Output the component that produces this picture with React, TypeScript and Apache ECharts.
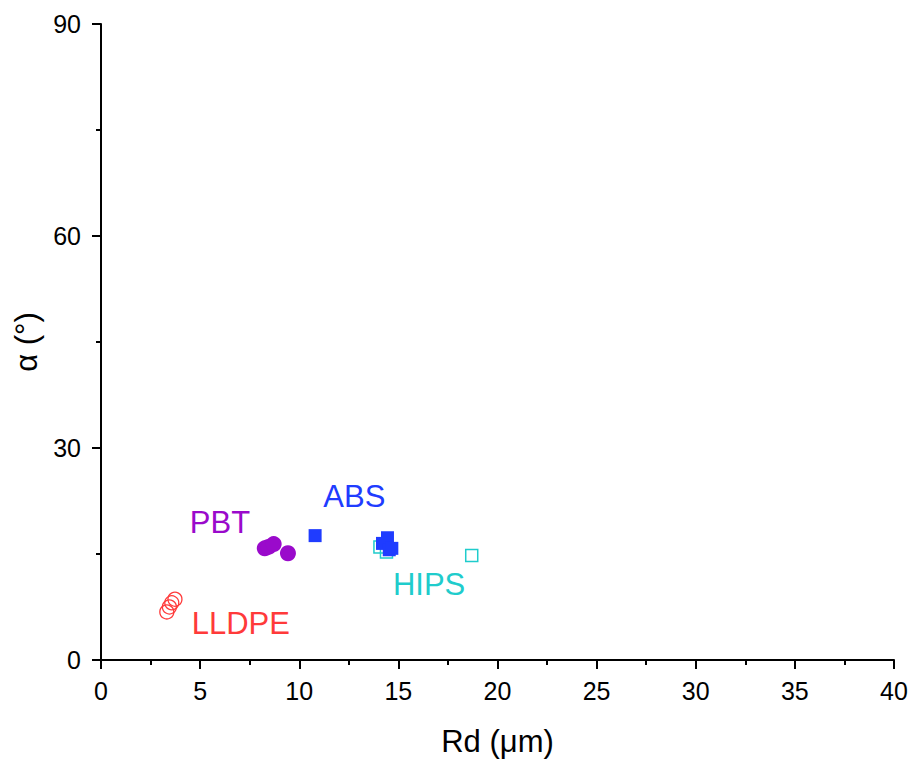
import React, { useEffect, useRef } from "react";
import * as echarts from "echarts";

const xTicks = [0, 5, 10, 15, 20, 25, 30, 35, 40];
const yTicks = [0, 30, 60, 90];

const lldpe: number[][] = [[3.32, 6.8], [3.45, 7.5], [3.57, 8.1], [3.73, 8.6]];
const pbt: number[][] = [[8.26, 15.8], [8.45, 16.0], [8.71, 16.4], [9.43, 15.1]];
const hips: number[][] = [[14.07, 16.0], [14.4, 15.3], [18.7, 14.8]];
const abs: number[][] = [[10.8, 17.6], [14.45, 17.3], [14.2, 16.5], [14.54, 15.6], [14.67, 15.8]];

const labels = [
  { text: "PBT", x: 6.0, y: 19.5, color: "#9a0acb" },
  { text: "ABS", x: 12.78, y: 23.1, color: "#1f3cff" },
  { text: "HIPS", x: 16.55, y: 10.75, color: "#1fcccc" },
  { text: "LLDPE", x: 7.05, y: 5.1, color: "#ff3a3a" },
];

const font = "'Liberation Sans', Arial, sans-serif";

export default function App() {
  const ref = useRef<HTMLDivElement>(null);
  useEffect(() => {
    if (!ref.current) return;
    const chart = echarts.init(ref.current, null, { renderer: "svg" });
    const axisCommon = {
      axisLine: { show: true, onZero: false, lineStyle: { color: "#000", width: 2 } },
      axisTick: { show: true, inside: false, length: 9, lineStyle: { color: "#000", width: 2 } },
      minorTick: { show: true, splitNumber: 2, length: 5, lineStyle: { color: "#000", width: 2 } },
      splitLine: { show: false },
    };
    chart.setOption({
      animation: false,
      backgroundColor: "#fff",
      grid: { left: 101, right: 20, top: 24, bottom: 103 },
      xAxis: {
        type: "value",
        min: xTicks[0],
        max: xTicks[xTicks.length - 1],
        interval: 5,
        name: "Rd (μm)",
        nameLocation: "middle",
        nameGap: 66,
        nameTextStyle: { fontFamily: font, fontSize: 31, color: "#000" },
        axisLabel: { fontFamily: font, fontSize: 25, color: "#000", margin: 18 },
        ...axisCommon,
      },
      yAxis: {
        type: "value",
        min: yTicks[0],
        max: yTicks[yTicks.length - 1],
        interval: 30,
        name: "α (°)",
        nameLocation: "middle",
        nameGap: 57,
        nameTextStyle: { fontFamily: font, fontSize: 31, color: "#000" },
        axisLabel: { fontFamily: font, fontSize: 25, color: "#000", margin: 20 },
        ...axisCommon,
      },
      series: [
        {
          type: "scatter",
          name: "LLDPE",
          data: lldpe,
          symbol: "circle",
          symbolSize: 14,
          itemStyle: { color: "rgba(255,255,255,0)", borderColor: "#ff3a3a", borderWidth: 1.3, opacity: 1 },
        },
        {
          type: "scatter",
          name: "PBT",
          data: pbt,
          symbol: "circle",
          symbolSize: 16,
          itemStyle: { color: "#9a0acb", opacity: 1 },
        },
        {
          type: "scatter",
          name: "HIPS",
          data: hips,
          symbol: "rect",
          symbolSize: 12,
          itemStyle: { color: "rgba(255,255,255,0)", borderColor: "#1fcccc", borderWidth: 1.5, opacity: 1 },
        },
        {
          type: "scatter",
          name: "ABS",
          data: abs,
          symbol: "rect",
          symbolSize: 13,
          itemStyle: { color: "#1f3cff", opacity: 1 },
        },
        {
          type: "scatter",
          name: "labels",
          data: labels.map((l) => ({
            value: [l.x, l.y],
            label: {
              show: true,
              position: "inside",
              formatter: l.text,
              color: l.color,
              fontFamily: font,
              fontSize: 31,
              opacity: 1,
            },
          })),
          symbolSize: 1,
          itemStyle: { color: "rgba(0,0,0,0)", opacity: 1 },
          z: 5,
          silent: true,
        },
      ],
    });
    return () => chart.dispose();
  }, []);
  return (
    <div
      ref={ref}
      style={{ position: "fixed", left: 0, top: 0, width: 914, height: 763 }}
    />
  );
}
